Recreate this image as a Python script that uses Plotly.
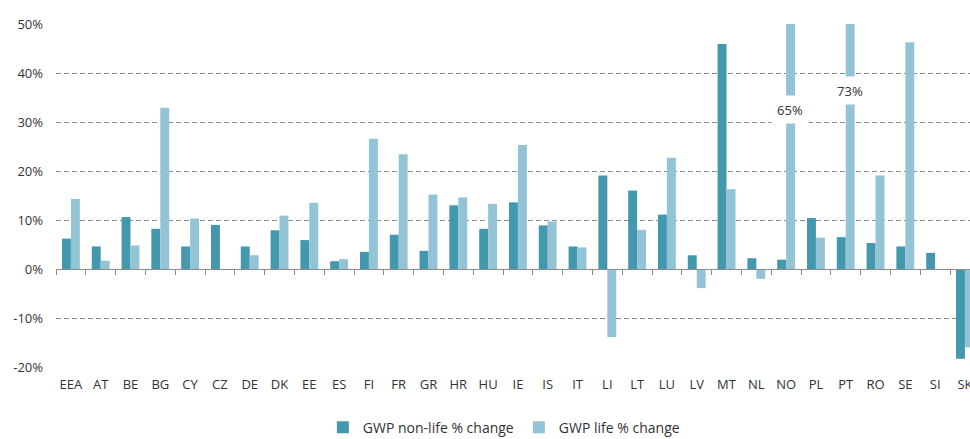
import plotly.graph_objects as go

categories = ["EEA", "AT", "BE", "BG", "CY", "CZ", "DE", "DK", "EE", "ES", "FI", "FR", "GR", "HR", "HU",
              "IE", "IS", "IT", "LI", "LT", "LU", "LV", "MT", "NL", "NO", "PL", "PT", "RO", "SE", "SI", "SK"]
non_life = [6.2, 4.6, 10.6, 8.2, 4.6, 9.0, 4.6, 7.9, 5.9, 1.6, 3.5, 7.0, 3.7, 13.0, 8.2,
            13.6, 8.9, 4.6, 19.1, 16.0, 11.1, 2.8, 45.9, 2.2, 1.9, 10.4, 6.5, 5.3, 4.6, 3.3, -18.3]
life = [14.3, 1.7, 4.8, 32.9, 10.3, -0.2, 2.8, 10.9, 13.5, 2.0, 26.6, 23.4, 15.2, 14.6, 13.3,
        25.3, 9.7, 4.4, -13.9, 8.0, 22.7, -3.9, 16.3, -2.0, 65.0, 6.4, 73.0, 19.1, 46.3, 0.0, -16.0]
y_ticks = [-20, -10, 0, 10, 20, 30, 40, 50]
y_tick_labels = ["-20%", "-10%", "0%", "10%", "20%", "30%", "40%", "50%"]

DARK = "#4398ae"
LIGHT = "#93c4d5"
Y_MIN, Y_MAX = -20, 50

fig = go.Figure()
fig.add_trace(go.Bar(x=categories, y=non_life, name="GWP non-life % change",
                     marker=dict(color=DARK, line=dict(width=0))))
fig.add_trace(go.Bar(x=categories, y=life, name="GWP life % change",
                     marker=dict(color=LIGHT, line=dict(width=0))))
# helper trace for the zero-line axis with boundary ticks
fig.add_trace(go.Scatter(x=categories, y=[0] * len(categories), xaxis="x2", mode="markers",
                         marker=dict(opacity=0, size=1), showlegend=False, hoverinfo="skip"))

# broken bars for values above the axis maximum
for cat, val in zip(categories, life):
    if val > Y_MAX:
        fig.add_annotation(x=cat, y=32.5 + (val - 65) * 0.5, xref="x", yref="y",
                           text=f"{val:.0f}%", showarrow=False, xshift=4,
                           bgcolor="white", width=34, height=25,
                           font=dict(family="Open Sans", size=13, color="#333333"))

x_range = [-0.5, 30.17]
fig.update_layout(
    width=970, height=439,
    margin=dict(l=56, r=0, t=24, b=72, autoexpand=False),
    plot_bgcolor="white", paper_bgcolor="white",
    barmode="group", bargap=0.4, bargroupgap=0,
    font=dict(family="Open Sans", size=13, color="#333333"),
    legend=dict(orientation="h", x=0.49, xanchor="center", y=-0.13, yanchor="top",
                font=dict(size=14, color="#333333"), itemwidth=30, traceorder="normal"),
    xaxis=dict(type="category", range=x_range, showgrid=False, showline=False, ticks="",
               automargin=False, ticklabelstandoff=8,
               tickfont=dict(size=13, color="#333333"), fixedrange=True),
    xaxis2=dict(type="category", overlaying="x", anchor="free", position=(0 - Y_MIN) / (Y_MAX - Y_MIN),
                range=x_range, showgrid=False, showline=True, linecolor="#8c8c8c", linewidth=1,
                ticks="outside", tickson="boundaries", ticklen=5, tickcolor="#8c8c8c",
                showticklabels=False, side="bottom", automargin=False),
    yaxis=dict(range=[Y_MIN, Y_MAX], tickvals=y_ticks, ticktext=y_tick_labels,
               showgrid=True, gridcolor="#8c8c8c", griddash="5px,3px", gridwidth=1,
               zeroline=False, showline=False, ticks="", ticklabelstandoff=12, automargin=False,
               tickfont=dict(size=13, color="#333333")),
)

fig.write_html("out.html", config={"displayModeBar": False},
               post_script="document.body.style.margin='0';document.body.style.overflow='hidden';")
